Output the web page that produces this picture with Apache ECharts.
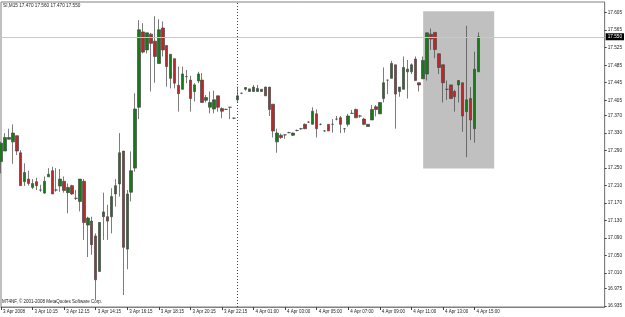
<!DOCTYPE html>
<html><head><meta charset="utf-8">
<script src="https://cdn.jsdelivr.net/npm/echarts@6/dist/echarts.min.js"></script>
<style>html,body{margin:0;padding:0;background:#fff}#c{width:625px;height:317px}</style>
</head><body><div id="c"></div>
<script>
// ---- data (M15 bars, 3 Apr 2008 08:15 -> 4 Apr 2008 15:15) ----
const opens = [17.265,17.289,17.316,17.310,17.324,17.285,17.219,17.225,17.206,17.219,
17.200,17.193,17.230,17.244,17.200,17.209,17.220,17.194,17.210,17.181,
17.174,17.220,17.120,17.129,17.095,17.014,17.139,17.139,17.139,17.191,
17.214,17.289,17.065,17.195,17.250,17.389,17.561,17.520,17.556,17.540,
17.489,17.570,17.530,17.455,17.500,17.439,17.430,17.459,17.451,17.425,
17.449,17.451,17.405,17.389,17.385,17.415,17.386,17.384,17.389,17.364,
17.406,17.421,17.430,17.425,17.425,17.425,17.425,17.435,17.435,17.396,
17.310,17.325,17.326,17.331,17.325,17.336,17.340,17.350,17.355,17.350,
17.374,17.350,17.335,17.350,17.350,17.362,17.365,17.340,17.350,17.375,
17.384,17.369,17.362,17.345,17.360,17.390,17.374,17.409,17.451,17.455,
17.486,17.425,17.430,17.470,17.470,17.499,17.445,17.454,17.465,17.556,
17.560,17.511,17.486,17.430,17.440,17.425,17.440,17.445,17.379,17.409,
17.340,17.470];
const closes = [17.307,17.320,17.320,17.330,17.289,17.210,17.240,17.215,17.215,17.210,
17.200,17.220,17.236,17.191,17.200,17.225,17.199,17.206,17.191,17.181,
17.225,17.126,17.136,17.075,16.995,17.126,17.150,17.129,17.185,17.210,
17.285,17.069,17.191,17.244,17.385,17.566,17.515,17.559,17.535,17.505,
17.566,17.520,17.482,17.510,17.444,17.420,17.465,17.459,17.409,17.440,
17.465,17.400,17.411,17.400,17.406,17.389,17.380,17.384,17.389,17.364,
17.415,17.421,17.434,17.431,17.435,17.432,17.430,17.415,17.384,17.335,
17.330,17.320,17.326,17.331,17.330,17.336,17.340,17.340,17.355,17.380,
17.340,17.350,17.335,17.335,17.350,17.362,17.350,17.340,17.369,17.375,
17.365,17.369,17.350,17.350,17.384,17.384,17.400,17.445,17.451,17.489,
17.419,17.435,17.480,17.476,17.486,17.450,17.440,17.496,17.559,17.545,
17.521,17.480,17.445,17.430,17.409,17.413,17.450,17.369,17.406,17.360,
17.476,17.550];
const lows = [17.238,17.289,17.316,17.260,17.280,17.210,17.209,17.210,17.202,17.200,
17.196,17.191,17.230,17.191,17.196,17.196,17.194,17.147,17.189,17.177,
17.151,17.086,17.047,17.052,16.949,17.014,17.086,17.086,17.101,17.162,
17.185,16.960,17.019,17.174,17.242,17.362,17.512,17.512,17.425,17.445,
17.489,17.505,17.436,17.432,17.432,17.379,17.430,17.444,17.379,17.402,
17.444,17.400,17.400,17.375,17.375,17.379,17.364,17.383,17.362,17.362,
17.400,17.419,17.427,17.425,17.425,17.425,17.425,17.415,17.369,17.320,
17.285,17.317,17.317,17.330,17.323,17.334,17.338,17.339,17.354,17.350,
17.320,17.348,17.333,17.335,17.331,17.359,17.330,17.331,17.345,17.374,
17.365,17.365,17.348,17.345,17.360,17.368,17.374,17.400,17.419,17.455,
17.340,17.413,17.430,17.409,17.465,17.450,17.425,17.454,17.450,17.520,
17.501,17.465,17.400,17.406,17.409,17.379,17.400,17.333,17.275,17.314,
17.308,17.470];
const highs = [17.310,17.330,17.340,17.350,17.324,17.291,17.261,17.244,17.225,17.228,
17.212,17.231,17.250,17.253,17.250,17.248,17.231,17.215,17.212,17.200,
17.225,17.225,17.139,17.139,17.101,17.126,17.194,17.166,17.204,17.225,
17.330,17.289,17.200,17.288,17.421,17.588,17.581,17.559,17.559,17.597,
17.590,17.585,17.530,17.510,17.500,17.482,17.482,17.474,17.461,17.444,
17.470,17.467,17.417,17.425,17.427,17.415,17.389,17.386,17.389,17.365,
17.436,17.422,17.435,17.431,17.440,17.440,17.430,17.436,17.435,17.396,
17.340,17.329,17.327,17.333,17.331,17.338,17.342,17.352,17.357,17.389,
17.384,17.352,17.337,17.350,17.362,17.369,17.369,17.341,17.374,17.383,
17.386,17.371,17.365,17.350,17.394,17.394,17.400,17.480,17.451,17.495,
17.486,17.435,17.505,17.497,17.489,17.505,17.445,17.505,17.559,17.569,
17.560,17.512,17.486,17.450,17.440,17.429,17.451,17.445,17.575,17.435,
17.516,17.560];
const tickLabels = ['3 Apr 2008','3 Apr 10:15','3 Apr 12:15','3 Apr 14:15','3 Apr 16:15','3 Apr 18:15',
'3 Apr 20:15','3 Apr 22:15','4 Apr 01:00','4 Apr 03:00','4 Apr 05:00','4 Apr 07:00','4 Apr 09:00',
'4 Apr 11:00','4 Apr 13:00','4 Apr 15:00'];
const priceTicks = [16.935,16.975,17.010,17.050,17.090,17.130,17.170,17.210,17.250,17.290,
17.330,17.370,17.405,17.445,17.485,17.525,17.565,17.605];
const symbolName = 'SI,M15';
const copyright = 'MT4NF, \u00a9 2001-2008 MetaQuotes Software Corp.';
const lastPrice = 17.550;
const daySeparatorBar = 60;
const boxBars = [107, 125];
const boxPrices = [17.249, 17.608];
const slotCount = 154;
const barsPerLabel = 8;

const FONT = 'Liberation Sans';
const categories = Array.from({length: slotCount}, (_, i) => String(i));
const ohlc = opens.map((o, i) => [o, closes[i], lows[i], highs[i]]);
const showTick = (i) => i % barsPerLabel === 0 && i / barsPerLabel < tickLabels.length;
const last = opens.length - 1;
const header = symbolName + ' ' + [opens[last], highs[last], lows[last], closes[last]].map(v => v.toFixed(3)).join(' ');

const chart = echarts.init(document.getElementById('c'), null, {renderer: 'canvas'});
chart.setOption({
  animation: false,
  backgroundColor: '#ffffff',
  grid: {left: 1, right: 18, top: 2, bottom: 10, show: true, borderColor: '#808080', borderWidth: 1},
  xAxis: {
    type: 'category', data: categories, boundaryGap: false,
    axisLine: {show: true, lineStyle: {color: '#808080'}},
    axisTick: {show: true, interval: showTick, length: 3, lineStyle: {color: '#404040'}},
    axisLabel: {interval: showTick, formatter: (v, i) => showTick(i) ? tickLabels[i / barsPerLabel] : '',
      align: 'left', margin: 2, padding: [0, 0, 0, 2], fontSize: 4.5, color: '#222', fontFamily: FONT},
    splitLine: {show: false}
  },
  yAxis: {
    type: 'value', position: 'right', min: 16.9328, max: 17.6294,
    axisLine: {show: true, lineStyle: {color: '#808080'}},
    axisTick: {show: true, customValues: priceTicks, length: 2, lineStyle: {color: '#404040'}},
    axisLabel: {customValues: priceTicks, formatter: v => v.toFixed(3), margin: 3, fontSize: 4.7, color: '#222', fontFamily: FONT},
    splitLine: {show: false}
  },
  graphic: [
    {type: 'text', left: 3, top: 3, style: {text: header, fontSize: 4.7, fill: '#222', fontFamily: FONT}},
    {type: 'text', left: 2, top: 299, style: {text: copyright, fontSize: 4.5, fill: '#222', fontFamily: FONT}}
  ],
  series: [
    {type: 'line', data: [], z: 1, silent: true,
      markLine: {silent: true, symbol: ['none', 'none'], animation: false,
        data: [
          {yAxis: lastPrice, lineStyle: {color: '#c8c8c8', width: 1, type: 'solid'},
            label: {show: true, position: 'end', formatter: lastPrice.toFixed(3), backgroundColor: '#000', color: '#fff',
              fontSize: 4.7, fontFamily: FONT, padding: [1, 2], distance: 1}},
          {xAxis: daySeparatorBar, lineStyle: {color: '#404040', width: 1, type: [1, 2]}, label: {show: false}}
        ]}},
    {type: 'line', data: [], z: 2, silent: true,
      markArea: {silent: true, itemStyle: {color: '#c0c0c0', opacity: 1},
        data: [[{xAxis: boxBars[0], yAxis: boxPrices[1]}, {xAxis: boxBars[1], yAxis: boxPrices[0]}]]}},
    {type: 'candlestick', data: ohlc, z: 3, barWidth: 3, silent: true,
      itemStyle: {color: '#177a19', color0: '#b82a2a', borderColor: '#454545', borderColor0: '#454545', borderWidth: 0.7}}
  ]
});
</script></body></html>
